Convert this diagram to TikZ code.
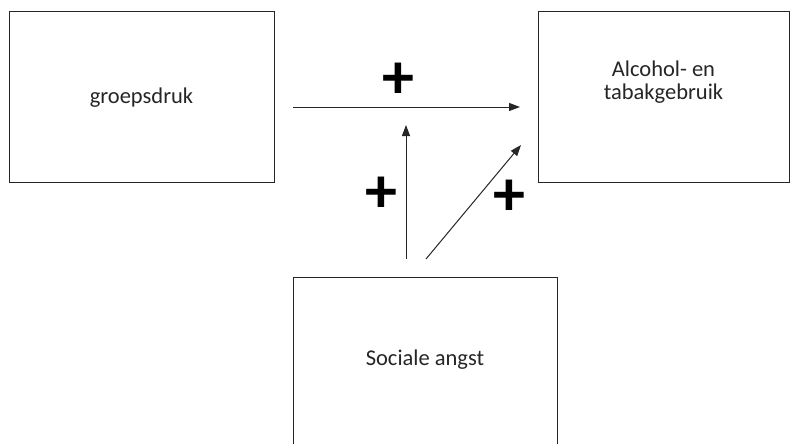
\documentclass[tikz,border=0pt]{standalone}
\usepackage{fontspec}
\setmainfont{Carlito}
\usetikzlibrary{arrows.meta}
\definecolor{inkgray}{HTML}{262626}
\tikzset{
  box/.style={draw=inkgray, line width=1pt, fill=white, inner sep=0pt},
  label/.style={text=inkgray, font=\fontsize{22.5}{23}\selectfont, align=center, inner sep=0pt},
  link/.style={draw=inkgray, line width=1pt,
    -{Triangle[length=11pt,width=8pt]}},
  plus/.style={font=\fontsize{64}{64}\selectfont\bfseries, text=black, inner sep=0pt}
}
\begin{document}
\begin{tikzpicture}[x=1pt,y=-1pt]
  \useasboundingbox (0,0) rectangle (793,444);
  \clip (0,0) rectangle (793,444);
  \fill[white] (0,0) rectangle (793,444);

  % the three boxes
  \node[box, minimum width=265pt, minimum height=170pt] (peer) at (141.5,97) {};
  \node[box, minimum width=251pt, minimum height=170pt] (use) at (663.5,97) {};
  \node[box, minimum width=264pt, minimum height=190pt] (anx) at (425,372) {};

  % box texts
  \node[label] (peerlabel) at (141.5,98) {groepsdruk};
  \node[label] (uselabel) at (663.5,82) {Alcohol- en\\tabakgebruik};
  \node[label] (anxlabel) at (425,360) {Sociale angst};

  % arrow end points
  \coordinate (hstart) at (293,107);
  \coordinate (hend) at (520,107);
  \coordinate (vstart) at (406,259);
  \coordinate (vend) at (406,125);
  \coordinate (dstart) at (426,259);
  \coordinate (dend) at (521,145);

  \draw[link] (hstart) -- (hend);
  \draw[link] (vstart) -- (vend);
  \draw[link] (dstart) -- (dend);

  % signs of the effects
  \node[plus] (p1) at (398,81) {+};
  \node[plus] (p2) at (381,195) {+};
  \node[plus] (p3) at (509,198) {+};
\end{tikzpicture}
\end{document}
